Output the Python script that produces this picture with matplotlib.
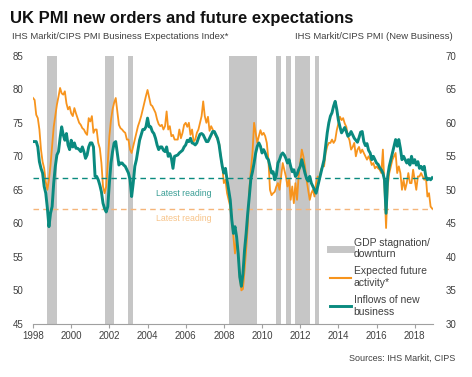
import numpy as np
import matplotlib
import matplotlib.pyplot as plt
from matplotlib.lines import Line2D

matplotlib.use('Agg')

plt.rcParams['font.family'] = ['Liberation Sans', 'DejaVu Sans']

# monthly readings, Jan 1998 - Dec 2018
START_YEAR = 1998

expectations = [
    78.7, 78.4, 76.2, 75.7, 74.0, 71.0, 69.2, 68.2, 66.2, 65.0, 66.5, 68.7,   # 1998
    71.5, 74.4, 76.0, 77.7, 78.9, 80.2, 79.4, 79.2, 79.7, 77.9, 77.0, 77.4,   # 1999
    76.4, 76.0, 77.2, 76.4, 75.7, 75.0, 74.7, 74.2, 74.0, 73.5, 73.2, 75.7,   # 2000
    75.2, 76.0, 73.5, 74.0, 74.0, 72.0, 71.2, 69.0, 65.5, 64.5, 65.5, 69.0,   # 2001
    73.0, 75.4, 77.0, 78.0, 78.7, 76.7, 74.7, 74.2, 74.0, 73.7, 73.5, 72.5,   # 2002
    72.5, 71.0, 70.5, 71.5, 72.5, 73.5, 74.5, 75.2, 76.0, 77.0, 78.0, 79.0,   # 2003
    79.9, 78.8, 77.7, 77.5, 77.0, 76.5, 75.5, 74.8, 74.5, 74.7, 74.0, 74.5,   # 2004
    76.7, 74.0, 74.5, 73.0, 73.2, 72.5, 72.5, 72.5, 74.0, 72.7, 73.5, 74.7,   # 2005
    75.0, 74.4, 75.0, 73.2, 74.0, 72.2, 72.5, 73.5, 74.0, 75.0, 76.0, 78.2,   # 2006
    76.0, 75.0, 75.9, 73.8, 74.5, 74.0, 73.5, 73.0, 72.5, 72.0, 70.0, 68.5,   # 2007
    66.0, 66.5, 64.5, 63.5, 62.5, 60.5, 58.0, 55.5, 57.5, 55.5, 52.0, 50.0,   # 2008
    50.2, 53.0, 56.0, 59.5, 65.0, 68.0, 70.5, 75.0, 73.5, 72.0, 73.0, 73.9,   # 2009
    73.2, 73.5, 73.0, 72.0, 69.5, 65.0, 64.2, 64.5, 64.7, 65.5, 66.0, 65.0,   # 2010
    67.0, 69.0, 68.0, 67.0, 65.5, 66.5, 63.5, 65.5, 63.0, 66.0, 63.5, 67.0,   # 2011
    69.0, 71.0, 70.0, 68.5, 66.5, 65.0, 63.5, 64.5, 65.0, 64.0, 66.0, 67.0,   # 2012
    66.5, 68.0, 68.5, 68.5, 70.5, 71.5, 72.0, 72.0, 72.5, 72.0, 72.4, 73.9,   # 2013
    74.9, 75.9, 75.4, 75.7, 74.9, 74.4, 73.0, 72.4, 71.0, 71.4, 72.0, 70.0,   # 2014
    71.0, 71.4, 70.5, 71.0, 70.5, 70.0, 69.5, 70.0, 69.5, 68.7, 69.0, 68.2,   # 2015
    68.5, 68.2, 68.0, 67.5, 71.0, 65.5, 59.3, 65.5, 67.5, 68.5, 69.5, 70.0,   # 2016
    70.5, 67.5, 68.5, 67.5, 65.0, 66.5, 65.0, 66.0, 67.5, 66.0, 66.0, 68.0,   # 2017
    66.5, 65.0, 67.0, 67.0, 67.5, 67.0, 66.5, 67.0, 64.0, 64.5, 62.5, 62.2,   # 2018
]

new_business = [
    57.2, 57.2, 57.2, 56.4, 54.2, 53.2, 52.5, 50.5, 49.5, 47.3, 44.5, 46.5,   # 1998
    47.5, 51.0, 53.5, 55.2, 55.7, 57.7, 59.4, 58.2, 57.4, 58.4, 56.7, 56.0,   # 1999
    57.4, 56.4, 57.0, 56.2, 56.2, 56.0, 55.7, 56.4, 55.7, 54.7, 55.2, 56.4,   # 2000
    57.0, 57.0, 56.4, 52.0, 52.0, 51.5, 50.7, 49.7, 48.0, 47.2, 46.7, 47.5,   # 2001
    51.0, 54.0, 55.7, 57.0, 57.2, 55.5, 53.7, 54.0, 54.0, 53.7, 53.5, 53.0,   # 2002
    52.5, 51.5, 49.0, 51.0, 53.5, 54.5, 56.0, 57.4, 58.2, 59.0, 59.0, 59.4,   # 2003
    60.7, 59.4, 59.4, 58.7, 58.4, 57.7, 56.7, 56.0, 56.4, 56.4, 55.9, 55.7,   # 2004
    56.4, 55.0, 55.4, 54.7, 53.2, 55.0, 55.1, 55.2, 55.5, 55.7, 55.9, 56.4,   # 2005
    56.7, 57.4, 57.2, 57.7, 57.0, 56.9, 56.7, 57.0, 57.7, 58.3, 58.4, 58.2,   # 2006
    57.7, 57.2, 57.2, 57.7, 58.2, 58.7, 58.7, 58.2, 57.7, 56.7, 55.0, 53.5,   # 2007
    52.5, 53.2, 51.5, 50.0, 48.5, 45.5, 43.5, 44.5, 43.0, 40.5, 37.0, 35.6,   # 2008
    37.5, 41.0, 43.5, 46.5, 49.0, 51.7, 52.7, 54.0, 55.5, 56.5, 57.0, 56.5,   # 2009
    55.5, 56.0, 55.5, 54.8, 54.5, 53.5, 52.5, 52.7, 51.5, 52.2, 54.0, 54.5,   # 2010
    55.2, 55.5, 55.2, 54.7, 54.0, 54.5, 53.5, 52.7, 53.0, 52.0, 52.3, 53.0,   # 2011
    53.5, 54.5, 53.5, 52.5, 51.7, 51.3, 52.0, 51.0, 50.5, 50.0, 49.5, 50.5,   # 2012
    51.5, 52.5, 53.5, 54.5, 56.5, 58.5, 60.0, 61.0, 61.5, 62.5, 63.2, 62.0,   # 2013
    60.4, 59.4, 58.5, 58.9, 59.3, 58.7, 58.0, 58.2, 58.7, 58.2, 57.7, 57.4,   # 2014
    57.1, 57.8, 58.6, 58.7, 57.2, 56.6, 56.9, 55.9, 55.5, 54.5, 55.0, 54.5,   # 2015
    54.0, 53.8, 53.3, 53.0, 52.5, 51.5, 46.5, 52.0, 53.5, 54.5, 55.5, 56.5,   # 2016
    57.5, 56.5, 57.5, 56.2, 54.5, 55.0, 54.5, 54.0, 54.5, 53.7, 55.0, 54.0,   # 2017
    54.5, 53.7, 54.2, 53.2, 53.5, 53.0, 53.5, 52.0, 51.5, 51.7, 51.5, 51.8,   # 2018
]

# GDP stagnation / downturn periods (decimal years)
band_starts = [1998.75, 2001.75, 2003.0, 2008.25, 2010.75, 2011.25, 2011.75, 2012.75]
band_ends = [1999.25, 2002.25, 2003.25, 2009.75, 2011.0, 2011.5, 2012.5, 2013.0]

year_ticks = list(range(1998, 2019, 2))
left_ticks = [45, 50, 55, 60, 65, 70, 75, 80, 85]
right_ticks = [30, 35, 40, 45, 50, 55, 60, 65, 70]

ORANGE = '#f7941d'
TEAL = '#0a8a7f'
BAND = '#c6c6c6'
TXT = '#404040'

x = START_YEAR + np.arange(len(expectations)) / 12.0

fig = plt.figure(figsize=(4.72, 3.77), dpi=100)
ax = fig.add_axes([0.070, 0.141, 0.847, 0.711])
ax2 = ax.twinx()

for s, e in zip(band_starts, band_ends):
    ax.axvspan(s, e, color=BAND, lw=0, zorder=0)

ax.plot(x, expectations, color=ORANGE, lw=1.3, zorder=3)
ax.axhline(expectations[-1], color='#f5b57a', lw=1.0, ls=(0, (4, 3)), zorder=2)
ax.text(2005.9, 60.7, 'Latest reading', color='#f7c48a', fontsize=6.3,
        ha='center', va='center')

ax2.plot(x, new_business, color=TEAL, lw=2.1, zorder=4)
ax2.axhline(new_business[-1], color=TEAL, lw=1.0, ls=(0, (4, 3)), zorder=2)
ax2.text(2005.9, 49.5, 'Latest reading', color='#3a9e95', fontsize=6.3,
         ha='center', va='center')

ax.set_xlim(1998, 2018.95)
ax.set_ylim(45, 85)
ax2.set_ylim(30, 70)
ax.set_xticks(year_ticks)
ax.set_yticks(left_ticks)
ax2.set_yticks(right_ticks)

for a in (ax, ax2):
    for side in ('top', 'left', 'right'):
        a.spines[side].set_visible(False)
ax.spines['bottom'].set_color('#a0a0a0')
ax2.spines['bottom'].set_visible(False)

ax.tick_params(axis='x', length=3, color='#a0a0a0', labelsize=7, labelcolor=TXT, pad=2)
ax.tick_params(axis='y', length=0, labelsize=7, labelcolor=TXT, pad=7)
ax2.tick_params(axis='y', length=0, labelsize=7, labelcolor=TXT, pad=9)

handles = [
    Line2D([], [], color=BAND, lw=5),
    Line2D([], [], color=ORANGE, lw=1.5),
    Line2D([], [], color=TEAL, lw=2.1),
]
labels = ['GDP stagnation/\ndownturn', 'Expected future\nactivity*', 'Inflows of new\nbusiness']
leg = ax2.legend(handles, labels, loc='upper left', bbox_to_anchor=(0.742, 0.322),
                 frameon=False, fontsize=7.5, handlelength=2.0, handletextpad=0.3,
                 labelspacing=0.7, borderaxespad=0, borderpad=0)
for t in leg.get_texts():
    t.set_color(TXT)

fig.text(0.021, 0.952, 'UK PMI new orders and future expectations', fontsize=12,
         fontweight='bold', color='#111111', va='center', ha='left')
fig.text(0.025, 0.902, 'IHS Markit/CIPS PMI Business Expectations Index*', fontsize=6.8,
         color=TXT, va='center', ha='left')
fig.text(0.960, 0.902, 'IHS Markit/CIPS PMI (New Business)', fontsize=6.8,
         color=TXT, va='center', ha='right')
fig.text(0.964, 0.050, 'Sources: IHS Markit, CIPS', fontsize=6.5,
         color=TXT, va='center', ha='right')

fig.savefig('out.png', dpi=100)
